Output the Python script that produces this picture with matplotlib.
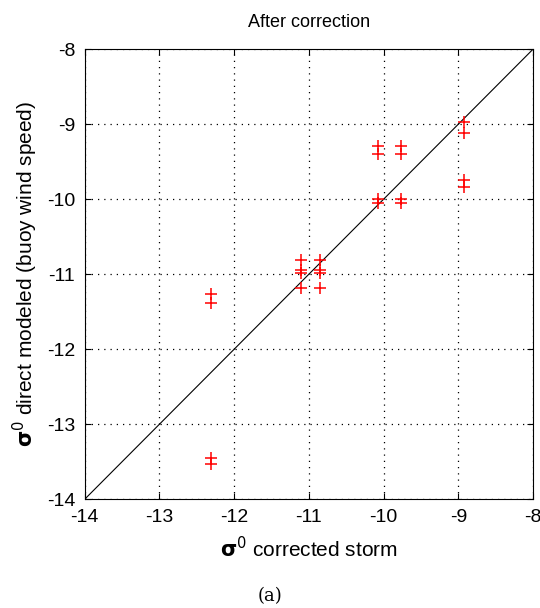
import matplotlib.pyplot as plt

# corrected storm sigma0 vs direct modelled sigma0
x_storm = [-12.31, -12.31, -12.31, -12.31,
           -11.11, -11.11, -11.11, -11.11,
           -10.85, -10.85, -10.85, -10.85,
           -10.08, -10.08, -10.08, -10.08,
           -9.77, -9.77, -9.77, -9.77,
           -8.92, -8.92, -8.92, -8.92]
y_model = [-11.27, -11.39, -13.45, -13.53,
           -10.81, -10.95, -10.99, -11.18,
           -10.81, -10.95, -10.99, -11.18,
           -9.29, -9.40, -10.00, -10.05,
           -9.29, -9.40, -10.00, -10.05,
           -8.97, -9.12, -9.75, -9.84]
ticks = [-14, -13, -12, -11, -10, -9, -8]

plt.rcParams['font.family'] = ['Liberation Sans', 'DejaVu Sans']
plt.rcParams['mathtext.fontset'] = 'dejavusans'

fig = plt.figure(figsize=(5.4, 6.08), dpi=100)
ax = fig.add_axes([0.157, 0.179, 0.830, 0.740])

ax.plot([-14, -8], [-14, -8], color='black', linewidth=0.8)
ax.plot(x_storm, y_model, linestyle='none', marker='+', color='red',
        markersize=9, markeredgewidth=1.1)

ax.set_xlim(-14, -8)
ax.set_ylim(-14, -8)
ax.set_xticks(ticks)
ax.set_yticks(ticks)
ax.set_xticklabels([str(t) for t in ticks])
ax.set_yticklabels([str(t) for t in ticks])
ax.tick_params(direction='in', top=True, right=True, labelsize=14, length=4, pad=7)
ax.grid(True, linestyle=(0, (1, 4)), color='black', linewidth=0.9)
for s in ax.spines.values():
    s.set_linewidth(0.8)

ax.set_title('After correction', fontsize=13, pad=16)
ax.set_xlabel(r'$\mathbf{\sigma}^{0}$ corrected storm', fontsize=15, labelpad=7)
ax.set_ylabel(r'$\mathbf{\sigma}^{0}$ direct modeled (buoy wind speed)', fontsize=15, labelpad=5)

fig.text(0.5, 0.012, '(a)', ha='center', fontsize=13, family='DejaVu Serif')

fig.savefig('out.png', dpi=100)
